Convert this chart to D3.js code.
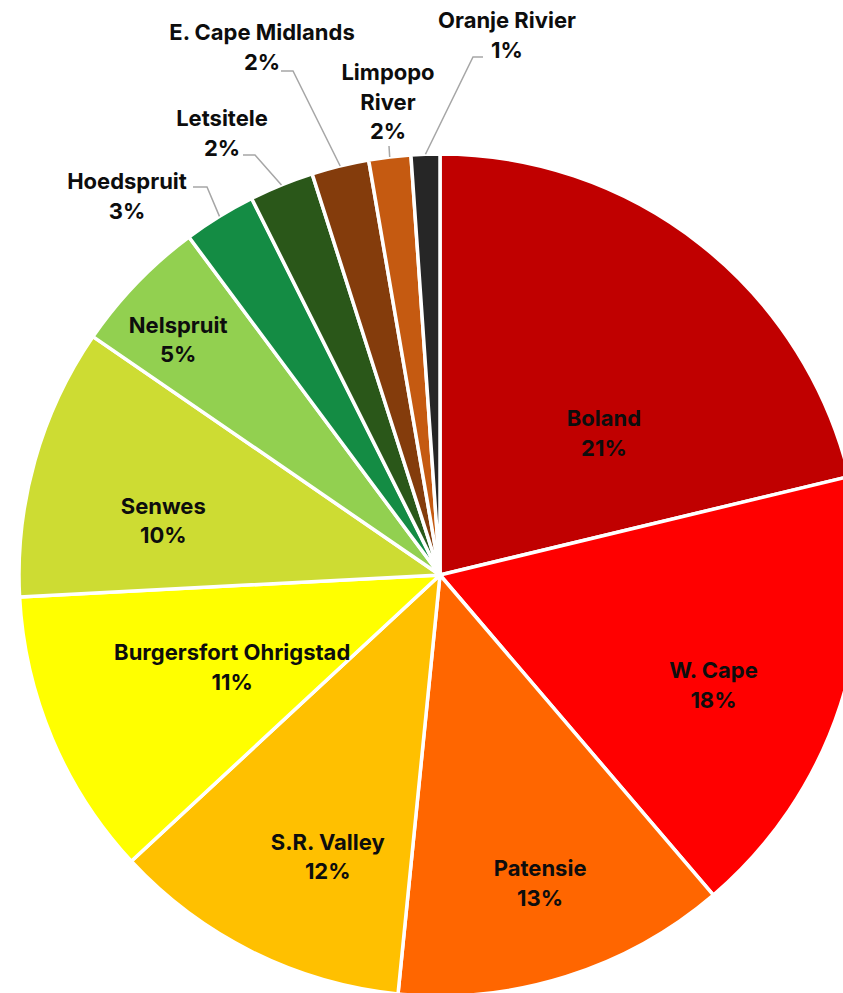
<!DOCTYPE html>
<html>
<head>
<meta charset="utf-8">
<script src="https://cdn.jsdelivr.net/npm/d3@7"></script>
<style>
  body { margin: 0; background: #fff; }
  .label { font-family: Inter, "Liberation Sans", sans-serif; font-weight: 700; font-size: 22px; fill: #0d0d0d; }
</style>
</head>
<body>
<div id="chart"></div>
<script>
// regions, clockwise from 12 o'clock
const regions = ["Boland", "W. Cape", "Patensie", "S.R. Valley", "Burgersfort Ohrigstad", "Senwes",
  "Nelspruit", "Hoedspruit", "Letsitele", "E. Cape Midlands", "Limpopo River", "Oranje Rivier"];
const shares = [21.24, 17.51, 12.84, 11.51, 11.07, 10.41, 5.25, 2.79, 2.47, 2.20, 1.61, 1.10];
const colors = ["#c00000", "#ff0000", "#ff6600", "#ffc000", "#ffff00", "#cddc33",
  "#92d050", "#148c44", "#2a5719", "#843c0c", "#c55a11", "#262626"];

const width = 843, height = 993;
const cx = 440, cy = 575, radius = 421;
const lineGap = 29.5;

// inside labels: fraction of radius, angle shift (deg) from slice middle
const inside = {
  "Boland": [0.515, 10.9],
  "W. Cape": [0.70, 3.9],
  "Patensie": [0.77, -0.6],
  "S.R. Valley": [0.72, -4.7],
  "Burgersfort Ohrigstad": [0.54, -1.0],
  "Senwes": [0.67, -4.6],
  "Nelspruit": [0.836, -2.0]
};
// outside labels: block centre and leader points, relative to pie centre
const outside = {
  "Hoedspruit": { at: [-313, -379], leg: [[-233, -388], [-247, -388]] },
  "Letsitele": { at: [-218, -442], leg: [[-185, -420], [-197, -420]] },
  "E. Cape Midlands": { at: [-178, -528], leg: [[-147, -504], [-159, -504]] },
  "Limpopo River": { at: [-52, -473], leg: [[-51, -429]], wrap: true },
  "Oranje Rivier": { at: [67, -540], leg: [[33, -518], [43, -518]] }
};

const data = regions.map((name, i) => ({ name, value: shares[i], color: colors[i] }));
const total = d3.sum(shares);

const pie = d3.pie().value(d => d.value).sort(null);
const arc = d3.arc().innerRadius(0).outerRadius(radius);
const edge = d3.arc().innerRadius(radius).outerRadius(radius);

const svg = d3.select("#chart").append("svg")
  .attr("width", width)
  .attr("height", height);

const g = svg.append("g").attr("transform", `translate(${cx},${cy})`);

const arcs = pie(data);

g.selectAll("path.slice")
  .data(arcs)
  .enter()
  .append("path")
  .attr("class", "slice")
  .attr("d", arc)
  .attr("fill", d => d.data.color)
  .attr("stroke", "#fff")
  .attr("stroke-width", 3.5)
  .attr("stroke-linejoin", "round");

const line = d3.line();

function drawLabel(x, y, lines) {
  const t = g.append("text")
    .attr("class", "label")
    .attr("text-anchor", "middle");
  const top = y - (lines.length - 1) * lineGap / 2;
  lines.forEach((s, k) => {
    t.append("tspan")
      .attr("x", x)
      .attr("y", top + k * lineGap)
      .attr("dy", "0.36em")
      .text(s);
  });
}

arcs.forEach(d => {
  const name = d.data.name;
  const pct = Math.round(d.data.value / total * 100) + "%";
  const mid = (d.startAngle + d.endAngle) / 2;
  if (inside[name]) {
    const [f, shift] = inside[name];
    const a = mid + shift * Math.PI / 180;
    const r = f * radius;
    drawLabel(r * Math.sin(a), -r * Math.cos(a), [name, pct]);
  } else {
    const o = outside[name];
    const pts = [edge.centroid(d)].concat(o.leg);
    g.append("path")
      .attr("d", line(pts))
      .attr("fill", "none")
      .attr("stroke", "#a6a6a6")
      .attr("stroke-width", 1.5);
    const lines = o.wrap ? name.split(" ").concat([pct]) : [name, pct];
    drawLabel(o.at[0], o.at[1], lines);
  }
});
</script>
</body>
</html>
